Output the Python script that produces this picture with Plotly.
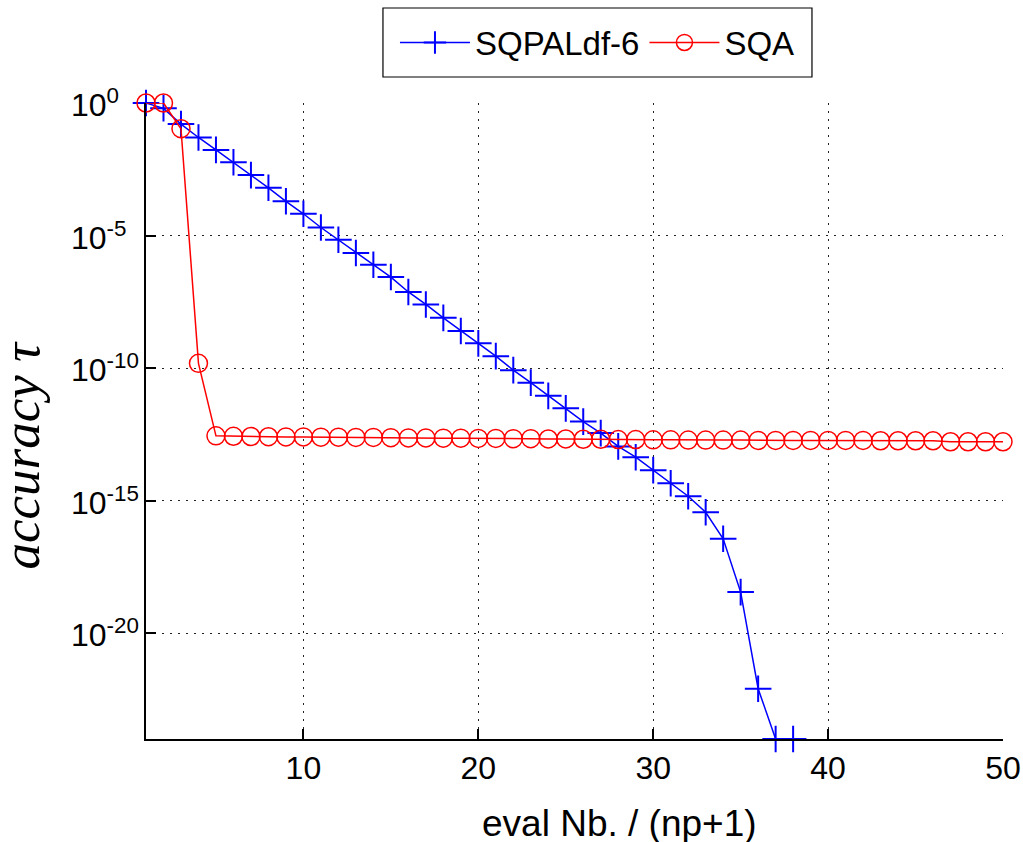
import math
import plotly.graph_objects as go

# ---- data ----
x_sqpal = list(range(1, 39))
y_sqpal = [1.0, 6.3e-1, 1.6e-1, 5.0e-2, 1.7e-2, 5.8e-3, 1.9e-3, 6.3e-4, 1.95e-4, 6.6e-5,
           2.0e-5, 6.9e-6, 2.2e-6, 7.9e-7, 2.7e-7, 7.4e-8, 2.5e-8, 7.8e-9, 2.5e-9, 8.5e-10,
           2.8e-10, 8.3e-11, 2.8e-11, 8.9e-12, 3.0e-12, 9.5e-13, 3.5e-13, 1.1e-13, 4.3e-14, 1.4e-14,
           4.5e-15, 1.45e-15, 3.6e-16, 3.6e-17, 3.5e-19, 7.9e-23, 1e-24, 1e-24]

x_sqa = list(range(1, 51))
y_sqa = [1.0, 1.0, 1.07e-1, 1.5e-10, 2.75e-13, 2.65e-13, 2.6e-13, 2.55e-13, 2.5e-13, 2.5e-13,
         2.45e-13, 2.45e-13, 2.4e-13, 2.4e-13, 2.35e-13, 2.3e-13, 2.3e-13, 2.25e-13, 2.25e-13, 2.2e-13,
         2.2e-13, 2.15e-13, 2.15e-13, 2.1e-13, 2.1e-13, 2.05e-13, 2.05e-13, 2.0e-13, 2.0e-13, 1.95e-13,
         1.95e-13, 1.9e-13, 1.9e-13, 1.9e-13, 1.9e-13, 1.85e-13, 1.85e-13, 1.85e-13, 1.85e-13, 1.85e-13,
         1.85e-13, 1.85e-13, 1.8e-13, 1.8e-13, 1.8e-13, 1.8e-13, 1.65e-13, 1.65e-13, 1.65e-13, 1.65e-13]

x_ticks = [10, 20, 30, 40, 50]
y_ticks = [1e0, 1e-5, 1e-10, 1e-15, 1e-20]
y_ticktext = ["10<sup>0</sup>", "10<sup>-5</sup>", "10<sup>-10</sup>", "10<sup>-15</sup>", "10<sup>-20</sup>"]

FONT = "Liberation Sans, Arial, sans-serif"

fig = go.Figure()
fig.add_trace(go.Scatter(
    x=x_sqpal, y=y_sqpal, name="SQPALdf-6", mode="lines+markers",
    line=dict(color="#0000ff", width=1.5),
    marker=dict(symbol="cross-thin", size=19, color="#0000ff",
                line=dict(color="#0000ff", width=2)),
    cliponaxis=False,
))
fig.add_trace(go.Scatter(
    x=x_sqa, y=y_sqa, name="SQA", mode="lines+markers",
    line=dict(color="#ff0000", width=1.5),
    marker=dict(symbol="circle-open", size=18, color="#ff0000",
                line=dict(color="#ff0000", width=1.5)),
    cliponaxis=False,
))

# y tick labels: MATLAB-style, base "10" aligned, exponent hanging to the right
tick_annots = [
    dict(text=t, xref="paper", yref="y", x=-0.0898, y=math.log10(v),
         xanchor="left", yanchor="middle", showarrow=False,
         font=dict(family=FONT, size=32, color="black"))
    for v, t in zip(y_ticks, y_ticktext)
]

fig.update_layout(
    width=1023, height=842,
    margin=dict(l=146, r=20, t=103, b=103),
    paper_bgcolor="white", plot_bgcolor="white",
    font=dict(family=FONT, size=32, color="black"),
    showlegend=True,
    legend=dict(
        orientation="h", x=0.5268, y=1.0951, xanchor="center", yanchor="middle",
        borderwidth=0, bgcolor="rgba(0,0,0,0)",
        font=dict(family=FONT, size=33, color="black"),
        itemwidth=70,
    ),
    shapes=[
        dict(type="rect", xref="paper", yref="paper",
             x0=0.2765, x1=0.7771, y0=1.0409, y1=1.1494,
             line=dict(color="black", width=1.2), fillcolor="white", layer="below"),
    ],
    xaxis=dict(
        range=[1, 50], tickmode="array", tickvals=x_ticks, automargin=False,
        showline=True, linecolor="black", linewidth=1.5, mirror=False,
        ticks="inside", ticklen=10, tickwidth=1.5, tickcolor="black",
        showgrid=True, gridcolor="#222222", gridwidth=1, griddash="2px,6px",
        zeroline=False, tickfont=dict(size=32), ticklabelstandoff=0,
    ),
    yaxis=dict(
        type="log", range=[-24, 0], tickmode="array", tickvals=y_ticks,
        showticklabels=False, automargin=False,
        showline=True, linecolor="black", linewidth=1.5, mirror=False,
        ticks="inside", ticklen=10, tickwidth=1.5, tickcolor="black",
        showgrid=True, gridcolor="#222222", gridwidth=1, griddash="2px,6px",
        zeroline=False,
    ),
    annotations=tick_annots + [
        dict(text="eval Nb. / (np+1)", xref="paper", yref="paper",
             x=0.552, y=-0.1335, xanchor="center", yanchor="middle",
             showarrow=False, font=dict(family=FONT, size=37, color="black")),
        dict(text="<i>accuracy τ</i>", xref="paper", yref="paper",
             x=-0.1453, y=0.4465, xanchor="center", yanchor="middle", textangle=-90,
             showarrow=False, font=dict(family="Liberation Serif, serif", size=53, color="black")),
    ],
)

# remove the default 8px page margin so the 1023x842 figure fills the window exactly
fig.write_html(
    "out.html",
    config={"displayModeBar": False},
    post_script="document.body.style.margin='0';document.body.style.overflow='hidden';",
)
